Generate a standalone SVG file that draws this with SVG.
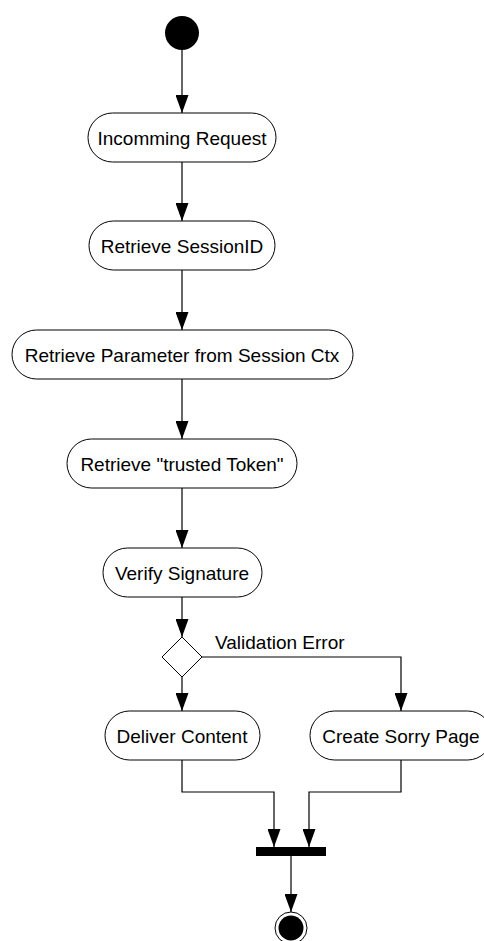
<svg xmlns="http://www.w3.org/2000/svg" width="484" height="941" viewBox="0 0 484 941">
<defs>
<style>
.box{fill:#fff;stroke:#000;stroke-width:1}
.lbl{font-family:"Liberation Sans",Arial,sans-serif;font-size:19px;fill:#000;text-anchor:middle}
.edge{fill:none;stroke:#000;stroke-width:1.2}
</style>
<marker id="arr" markerUnits="userSpaceOnUse" markerWidth="18" markerHeight="13" refX="18" refY="6.5" orient="auto">
<path d="M0,0 L18,6.5 L0,13 z" fill="#000"/>
</marker>
</defs>
<rect width="484" height="941" fill="#fff"/>
<g id="connectors">
<path class="edge" d="M182,50 V113" marker-end="url(#arr)"/>
<path class="edge" d="M182,162 V221" marker-end="url(#arr)"/>
<path class="edge" d="M182,270 V330" marker-end="url(#arr)"/>
<path class="edge" d="M182,379 V439" marker-end="url(#arr)"/>
<path class="edge" d="M182,488 V548" marker-end="url(#arr)"/>
<path class="edge" d="M182,597 V637" marker-end="url(#arr)"/>
<path class="edge" d="M182,677 V711" marker-end="url(#arr)"/>
<path class="edge" d="M202,657 H401 V711" marker-end="url(#arr)"/>
<path class="edge" d="M182,760 V792 H274 V847" marker-end="url(#arr)"/>
<path class="edge" d="M401,760 V792 H309 V847" marker-end="url(#arr)"/>
<path class="edge" d="M291,856 V912" marker-end="url(#arr)"/>
<text x="215" y="649" class="lbl" style="text-anchor:start">Validation Error</text>
</g>
<g id="start"><circle cx="182" cy="33" r="17" fill="#000"/></g>
<g id="n1"><rect class="box" x="88" y="113" width="188" height="49" rx="24.5"/><text class="lbl" x="182" y="144.5">Incomming Request</text></g>
<g id="n2"><rect class="box" x="89" y="221" width="186" height="49" rx="24.5"/><text class="lbl" x="182" y="252.5">Retrieve SessionID</text></g>
<g id="n3"><rect class="box" x="12" y="330" width="341" height="49" rx="24.5"/><text class="lbl" x="182" y="361.5">Retrieve Parameter from Session Ctx</text></g>
<g id="n4"><rect class="box" x="67" y="439" width="230" height="49" rx="24.5"/><text class="lbl" x="182" y="470.5">Retrieve "trusted Token"</text></g>
<g id="n5"><rect class="box" x="103" y="548" width="159" height="49" rx="24.5"/><text class="lbl" x="182" y="579.5">Verify Signature</text></g>
<g id="decision"><polygon class="box" points="182,637 202,657 182,677 162,657"/></g>
<g id="n6"><rect class="box" x="105" y="711" width="155" height="49" rx="24.5"/><text class="lbl" x="182" y="742.5">Deliver Content</text></g>
<g id="n7"><rect class="box" x="310" y="711" width="182" height="49" rx="24.5"/><text class="lbl" x="401" y="742.5">Create Sorry Page</text></g>
<g id="join"><rect x="256" y="847" width="70" height="9" fill="#000"/></g>
<g id="end"><circle cx="291" cy="928" r="16" fill="#fff" stroke="#000" stroke-width="1"/><circle cx="291" cy="928" r="12.5" fill="#000"/></g>
</svg>
